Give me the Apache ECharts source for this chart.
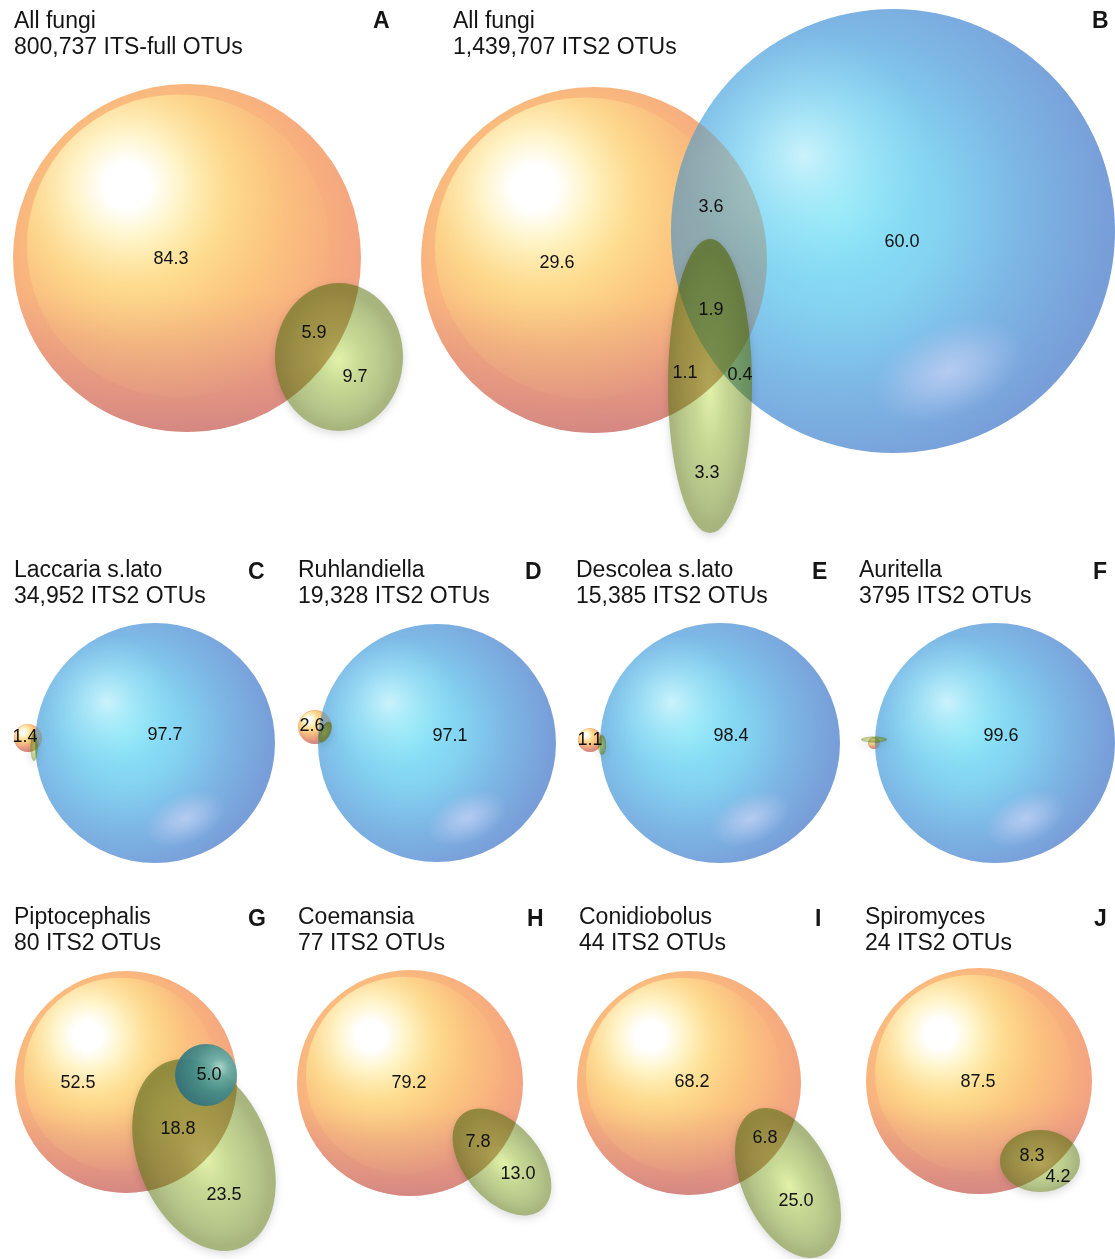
<!DOCTYPE html>
<html><head><meta charset="utf-8">
<script src="https://cdn.jsdelivr.net/npm/echarts@6/dist/echarts.min.js"></script>
<style>html,body{margin:0;padding:0;background:#fff}#c{width:1115px;height:1259px}</style>
</head><body><div id="c"></div>
<script>
// ---------- text ----------
const panelLetters = ['A','B','C','D','E','F','G','H','I','J'];
const panelNames = ['All fungi','All fungi','Laccaria s.lato','Ruhlandiella','Descolea s.lato','Auritella','Piptocephalis','Coemansia','Conidiobolus','Spiromyces'];
const panelCounts = ['800,737 ITS-full OTUs','1,439,707 ITS2 OTUs','34,952 ITS2 OTUs','19,328 ITS2 OTUs','15,385 ITS2 OTUs','3795 ITS2 OTUs','80 ITS2 OTUs','77 ITS2 OTUs','44 ITS2 OTUs','24 ITS2 OTUs'];

// ---------- region values (% of OTUs) ----------
const valuesA = [84.3, 5.9, 9.7];
const valuesB = [29.6, 3.6, 60.0, 1.9, 1.1, 0.4, 3.3];
const valuesC = [1.4, 97.7];
const valuesD = [2.6, 97.1];
const valuesE = [1.1, 98.4];
const valuesF = [99.6];
const valuesG = [52.5, 5.0, 18.8, 23.5];
const valuesH = [79.2, 7.8, 13.0];
const valuesI = [68.2, 6.8, 25.0];
const valuesJ = [87.5, 8.3, 4.2];

// ---------- layout (kept apart from the values) ----------
const titlePos  = [[14,9],[453,9],[14,558],[298,558],[576,558],[859,558],[14,905],[298,905],[579,905],[865,905]];
const letterPos = [[373,9],[1092,9],[248,560],[525,560],[812,560],[1093,560],[248,907],[527,907],[815,907],[1094,907]];

const labelPosA = [[171,259],[314,333],[355,377]];
const labelPosB = [[557,263],[711,207],[902,242],[711,310],[685,373],[740,375],[707,473]];
const labelPosC = [[25,737],[165,735]];
const labelPosD = [[312,726],[450,736]];
const labelPosE = [[590,740],[731,736]];
const labelPosF = [[1001,736]];
const labelPosG = [[78,1083],[209,1075],[178,1129],[224,1195]];
const labelPosH = [[409,1083],[478,1142],[518,1174]];
const labelPosI = [[692,1082],[765,1138],[796,1201]];
const labelPosJ = [[978,1082],[1032,1156],[1058,1177]];

// set shapes: [kind, cx, cy, rx, ry, rotationDeg]
const shapesA = [['orange',187,258,174,174,0],['green',339,357,64,74,0]];
const shapesB = [['orange',594,260,173,173,0],['blue',893,231,222,222,0],['green',710,386,42,147,0]];
const shapesC = [['orange',28,738,14,14,0],['blue',155,743,120,120,0],['green',34,747,3.5,14,0]];
const shapesD = [['orange',315,727,17,17,0],['blue',437,743,119,119,0],['green',325,732,5,11,-25]];
const shapesE = [['orange',590,740,12,12,0],['blue',720,743,120,120,0],['green',602,745,4,10,0]];
const shapesF = [['orange',874,743,6,6,0],['blue',995,743,120,120,0],['green',874,739.5,13,3,0]];
const shapesG = [['orange',126,1082,111,111,0],['green',204,1155,66,100,22],['teal',206,1075,31,31,0]];
const shapesH = [['orange',410,1083,113,113,0],['green',502,1162,38,62,40]];
const shapesI = [['orange',689,1083,112,112,0],['green',788,1183,45,80,25]];
const shapesJ = [['orange',979,1081,113,113,0],['green',1040,1161,40,31,0]];

const allValues = [valuesA,valuesB,valuesC,valuesD,valuesE,valuesF,valuesG,valuesH,valuesI,valuesJ];
const allLabelPos = [labelPosA,labelPosB,labelPosC,labelPosD,labelPosE,labelPosF,labelPosG,labelPosH,labelPosI,labelPosJ];
const shapesByPanel = [shapesA,shapesB,shapesC,shapesD,shapesE,shapesF,shapesG,shapesH,shapesI,shapesJ];

const FONT = '"Liberation Sans", Arial, Helvetica, sans-serif';
const GR = echarts.graphic;
const rg = (x, y, r, stops) => new GR.RadialGradient(x, y, r, stops.map(s => ({offset:s[0], color:s[1]})));

// overlap tints (emulate the darker, multiplied look of overlapping sets)
const TINT = {
  green_orange: 'rgba(112,90,14,0.33)',
  green_blue: 'rgba(60,110,50,0.32)',
  blue_orange: 'rgba(175,150,120,0.30)'
};

// ---- geometry helpers (pixel space) ----
function ellipsePts(cx, cy, rx, ry, rot, n) {
  const pts = [], c = Math.cos(rot), s = Math.sin(rot);
  for (let i = 0; i < n; i++) {
    const t = i / n * Math.PI * 2, x = rx * Math.cos(t), y = ry * Math.sin(t);
    pts.push([cx + c * x + s * y, cy - s * x + c * y]);
  }
  return pts;
}
function clipConvex(subject, clip, inner) {
  let out = subject;
  const cross = (A, B, p) => (B[0]-A[0])*(p[1]-A[1]) - (B[1]-A[1])*(p[0]-A[0]);
  for (let i = 0; i < clip.length && out.length; i++) {
    const A = clip[i], B = clip[(i + 1) % clip.length];
    const sg = Math.sign(cross(A, B, inner));
    const inside = p => cross(A, B, p) * sg >= 0;
    const inp = out; out = [];
    for (let j = 0; j < inp.length; j++) {
      const P = inp[j], Q = inp[(j + 1) % inp.length];
      const pi = inside(P), qi = inside(Q);
      if (pi) out.push(P);
      if (pi !== qi) {
        const d1 = cross(A, B, P), d2 = cross(A, B, Q), t = d1 / (d1 - d2);
        out.push([P[0] + (Q[0]-P[0]) * t, P[1] + (Q[1]-P[1]) * t]);
      }
    }
  }
  return out;
}

function layers(kind, R) {
  if (kind === 'orange') return [
    {type:'circle', shape:{cx:0, cy:0, r:R}, style:{fill: rg(0.42, 0.4, 0.7, [
      [0,'#fdd98c'],[0.45,'#fbc07e'],[0.7,'#f7ac7e'],[0.86,'#f2a381'],[1,'#ee9d83']])}},
    {type:'circle', shape:{cx:0, cy:0, r:R}, style:{fill: new GR.LinearGradient(0, 0, 0, 1, [
      {offset:0, color:'rgba(208,128,134,0)'},{offset:0.6, color:'rgba(208,128,134,0)'},
      {offset:0.88, color:'rgba(206,128,132,0.5)'},{offset:1, color:'rgba(200,124,130,0.7)'}])}},
    {type:'circle', shape:{cx:-0.05*R, cy:-0.07*R, r:0.87*R}, style:{fill: rg(0.33, 0.3, 0.75, [
      [0,'rgba(255,255,255,1)'],[0.1,'rgba(255,255,255,1)'],[0.24,'rgba(255,247,205,0.92)'],
      [0.45,'rgba(254,230,150,0.6)'],[0.7,'rgba(253,212,130,0.2)'],[1,'rgba(252,205,128,0.04)']])}}
  ];
  if (kind === 'blue') return [
    {type:'circle', shape:{cx:0, cy:0, r:R}, style:{opacity:0.72, fill: rg(0.38, 0.45, 0.75, [
      [0,'#5edef5'],[0.3,'#54c2ec'],[0.55,'#4a9ada'],[0.8,'#4479ca'],[1,'#4174c4']])}},
    {type:'circle', shape:{cx:0, cy:0, r:R}, style:{fill: rg(0.3, 0.33, 0.28, [
      [0,'rgba(232,252,255,0.7)'],[0.5,'rgba(200,245,252,0.3)'],[1,'rgba(170,235,250,0)']])}},
    {type:'group', x:0.25*R, y:0.63*R, rotation:0.4, scaleX:1.7, children:[
      {type:'circle', shape:{cx:0, cy:0, r:0.21*R}, style:{fill: rg(0.5, 0.5, 0.5, [
        [0,'rgba(196,210,245,0.8)'],[0.45,'rgba(188,204,242,0.5)'],[1,'rgba(175,195,238,0)']])}}]}
  ];
  if (kind === 'green') return [
    {type:'circle', shape:{cx:0, cy:0, r:R}, style:{fill: rg(0.5, 0.52, 0.5, [
      [0,'rgba(228,255,135,0.6)'],[0.35,'rgba(185,214,100,0.6)'],[0.75,'rgba(155,180,85,0.62)'],[1,'rgba(130,150,68,0.66)']]),
      shadowBlur:8, shadowColor:'rgba(0,0,0,0.22)', shadowOffsetY:3}}
  ];
  return [
    {type:'circle', shape:{cx:0, cy:0, r:R}, style:{opacity:0.93, fill: rg(0.72, 0.38, 0.7, [
      [0,'#a6dcd2'],[0.22,'#68aea8'],[0.6,'#418b89'],[1,'#32727c']])}}
  ];
}

// tint polygons where this shape overlaps lower sets of the same panel
function overlapTints(api, kind, pts, panel) {
  const out = [];
  shapesByPanel[panel].forEach(sh => {
    const key = kind + '_' + sh[0];
    if (!TINT[key]) return;
    const cc = api.coord([sh[1], sh[2]]);
    const rr = Math.abs(api.size([sh[3], sh[3]])[0]);
    const poly = clipConvex(pts, ellipsePts(cc[0], cc[1], rr, rr, 0, 160), cc);
    if (poly.length > 2) out.push({type:'polygon', shape:{points: poly}, style:{fill: TINT[key]}});
  });
  return out;
}

function shapeSeries(kind, z) {
  const data = [];
  shapesByPanel.forEach((arr, p) => arr.forEach(s => { if (s[0] === kind) data.push(s.slice(1).concat([p])); }));
  return {
    type:'custom', coordinateSystem:'cartesian2d', silent:true, z: z, data: data,
    renderItem: function (params, api) {
      const c = api.coord([api.value(0), api.value(1)]);
      const s = api.size([api.value(2), api.value(3)]);
      const rx = Math.abs(s[0]), ry = Math.abs(s[1]);
      const rot = api.value(4) * Math.PI / 180;
      const children = [{type:'group', x:c[0], y:c[1], rotation: rot, scaleX: rx / ry, scaleY: 1, children: layers(kind, ry)}];
      const pts = ellipsePts(c[0], c[1], rx, ry, rot, 160);
      return {type:'group', children: children.concat(overlapTints(api, kind, pts, api.value(5)))};
    }
  };
}

const labelData = [];
allValues.forEach((vals, p) => vals.forEach((v, i) => labelData.push([allLabelPos[p][i][0], allLabelPos[p][i][1], v])));

const titles = [];
panelLetters.forEach((L, i) => {
  titles.push({left: titlePos[i][0], top: titlePos[i][1], padding: 0, text: panelNames[i] + '\n' + panelCounts[i],
    textStyle:{fontSize:23, fontWeight:'normal', color:'#151515', lineHeight:26, fontFamily: FONT}});
  titles.push({left: letterPos[i][0], top: letterPos[i][1], padding: 0, text: L,
    textStyle:{fontSize:23, fontWeight:'bold', color:'#151515', lineHeight:26, fontFamily: FONT}});
});

const chart = echarts.init(document.getElementById('c'), null, {renderer:'canvas'});
chart.setOption({
  animation:false,
  backgroundColor:'#ffffff',
  title: titles,
  grid:{left:0, top:0, right:0, bottom:0},
  xAxis:{type:'value', min:0, max:1115, show:false},
  yAxis:{type:'value', min:0, max:1259, inverse:true, show:false},
  series:[
    shapeSeries('orange', 1),
    shapeSeries('blue', 2),
    shapeSeries('green', 3),
    shapeSeries('teal', 4),
    {
      type:'custom', coordinateSystem:'cartesian2d', silent:true, z:10, data: labelData,
      renderItem: function (params, api) {
        const c = api.coord([api.value(0), api.value(1)]);
        return {type:'text', x:c[0], y:c[1], style:{text: api.value(2).toFixed(1), fill:'#111', fontSize:18,
          fontFamily: FONT, align:'center', verticalAlign:'middle'}};
      }
    }
  ]
});
</script></body></html>
